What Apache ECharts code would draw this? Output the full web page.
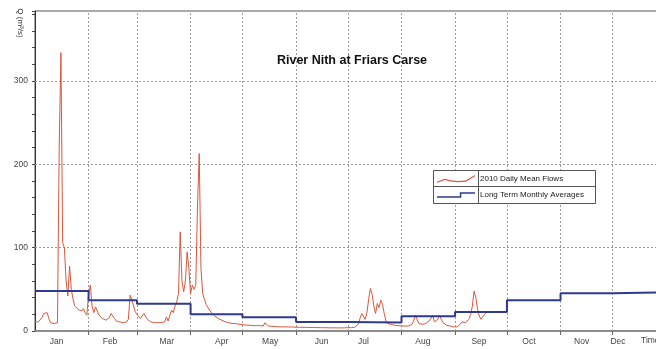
<!DOCTYPE html>
<html><head><meta charset="utf-8">
<script src="https://cdn.jsdelivr.net/npm/echarts@6/dist/echarts.min.js"></script>
<style>html,body{margin:0;padding:0;background:#fff}#c{width:656px;height:349px}</style>
</head><body><div id="c"></div>
<script>
// ---- data (day-of-year index from 1 Jan 2010) ----
var monthNames = ['Jan','Feb','Mar','Apr','May','Jun','Jul','Aug','Sep','Oct','Nov','Dec'];
var monthDays = [31,28,31,30,31,30,31,31,30,31,30,31];
var monthLabelDays = [12.5, 43.4, 76.2, 108, 136, 165.8, 190, 224.4, 256.8, 285.7, 316.2, 337.2];
var monthlyAverages = [48, 36.8, 32.8, 20, 16.4, 10.8, 10.2, 17.6, 22.8, 36.8, 45.2, 46.4];
var flowsJan = [11,11,11,12,16,21,23,22,15,10,9,9,9,10,220,334,106,100,60,42,78,50,38,30,32,26,28,24,27,22,19];
var flowsFeb = [45,55,30,22,29,24,19,17,15,14,13,13,16,21,20,15,12,11,11,10,10,10,11,14,43,38,30,23];
var flowsMar = [20,18,15,16,21,19,14,12,11,10,10,10,10,10,10,10,11,17,12,11,25,22,30,35,45,119,60,47,60,95,75];
var flowsApr = [45,55,50,55,150,213,75,45,38,32,28,25,22,20,18,17,15,14,13,12,11,11,10,10,9,9,9,8,8,8];
var flowsMay = [8,7.5,7,7,7,7,6.5,6.5,6.5,6.5,6.5,6,6,10,8,6,6,5.5,5.5,5.5,5.5,5,5,5,5,5,5,4.8,4.8,4.8,4.6];
var flowsJun = [4.5,4.5,4.5,4.4,4.4,4.4,4.3,4.3,4.2,4.2,4.2,4.1,4.1,4,4,4,4,3.9,3.9,3.9,3.8,3.8,3.8,3.8,3.7,3.7,3.7,3.7,3.8,4];
var flowsJul = [4,4,4,4,4.5,5,8,15,21,23,14,22,38,51,44,30,21,33,28,37,32,21,12,9,8,8,7,7,7,6.5,6.5];
var flowsAug = [6,6,6,6,6,7,8,12,19,14,9,8,8,8,9,9,12,15,19,11,10,14,19,14,10,8,7,6,6,5.5,5];
var flowsSep = [5,5,6,8,11,9,10,12,14,20,30,48,40,26,18,14,17,20,22];
var yTickLabels = [0,100,200,300];
var titleText = 'River Nith at Friars Carse';
var yName = 'Q (m³/s)';
var xName = 'Time';
var seriesNames = ['2010 Daily Mean Flows','Long Term Monthly Averages'];

// ---- build ----
var flows = [].concat(flowsJan,flowsFeb,flowsMar,flowsApr,flowsMay,flowsJun,flowsJul,flowsAug,flowsSep);
var monthStarts = [], acc = 0;
monthDays.forEach(function(d){ monthStarts.push(acc); acc += d; });
var yearEnd = acc;
var dailyData = flows.map(function(v,i){ return [i, v]; });
var stepData = monthStarts.map(function(s,i){ return [s, monthlyAverages[i]]; });
stepData.push([yearEnd, monthlyAverages[11]]);

var RED = '#d9583c', BLUE = '#2f3a8f';
var squiggleIcon = 'path://M0,8.2 L8,5 L14,6.6 L22,7.4 L30,6.8 L40,1 L40,2.4 L30.4,8 L22,8.6 L14,7.8 L8,6.2 L0,9.4 Z';
var stepIcon = 'path://M0,7 L24,7 L24,3 L40,3 L40,4.6 L25.6,4.6 L25.6,8.6 L0,8.6 Z';
var FONT = '"Liberation Sans", Arial, sans-serif';
var chart = echarts.init(document.getElementById('c'));
chart.setOption({
  animation:false,
  backgroundColor:'#fff',
  textStyle:{fontFamily:FONT},
  grid:{left:35, top:11, width:631, height:320, outerBoundsMode:'none', containLabel:false,
        show:true, borderColor:'#555', borderWidth:1, backgroundColor:'#fff'},
  xAxis:{
    type:'value', min:0, max:yearEnd,
    axisLine:{lineStyle:{color:'#8c8c8c', width:2}},
    axisTick:{show:true, customValues:monthStarts.slice(1), length:4, lineStyle:{color:'#666'}},
    axisLabel:{customValues:monthLabelDays, margin:6, fontSize:8.5, color:'#444', fontFamily:FONT,
      formatter:function(v){ var i = monthLabelDays.indexOf(v); return i>=0 ? monthNames[i] : ''; }},
    splitLine:{show:false}
  },
  yAxis:{
    type:'value', min:0, max:384, interval:20,
    axisLine:{show:true, lineStyle:{color:'#333', width:1}},
    axisTick:{show:true, length:3, lineStyle:{color:'#444'}},
    axisLabel:{fontSize:8.5, color:'#444', margin:7, fontFamily:FONT,
      formatter:function(v){ return yTickLabels.indexOf(v)>=0 ? String(v) : ''; }},
    splitLine:{show:false}
  },
  legend:{
    orient:'vertical', left:437, top:175, padding:0, itemWidth:38, itemHeight:10, itemGap:8, z:20,
    textStyle:{fontSize:8, color:'#222', fontFamily:FONT},
    data:[{name:seriesNames[0], icon:squiggleIcon}, {name:seriesNames[1], icon:stepIcon}]
  },
  graphic:[
    {type:'rect', z:15, shape:{x:433.5,y:170.5,width:162,height:33}, style:{fill:'#fff', stroke:'#555', lineWidth:1}},
    {type:'line', z:16, shape:{x1:433.5,y1:186.5,x2:595.5,y2:186.5}, style:{stroke:'#555', lineWidth:1}},
    {type:'line', z:16, shape:{x1:478.5,y1:170.5,x2:478.5,y2:203.5}, style:{stroke:'#555', lineWidth:1}},
    {type:'text', z:20, x:352, y:61, style:{text:titleText, fontSize:12.5, fontWeight:'bold', fill:'#111', align:'center', verticalAlign:'middle', fontFamily:FONT}},
    {type:'text', z:20, x:20, y:23, rotation:-Math.PI/2, style:{text:yName, fontSize:8, fill:'#333', align:'center', verticalAlign:'middle', fontFamily:FONT}},
    {type:'text', z:20, x:641, y:341, style:{text:xName, fontSize:8.5, fill:'#444', align:'left', verticalAlign:'middle', fontFamily:FONT}}
  ],
  series:[
    {name:seriesNames[0], type:'line', data:dailyData, symbol:'none', z:4,
     lineStyle:{color:RED, width:1}, itemStyle:{color:RED},
     markLine:{silent:true, symbol:'none', label:{show:false}, z:1,
       lineStyle:{color:'#9a9a9a', type:[2,2], width:1},
       data:[100,200,300].map(function(v){ return {yAxis:v}; })}
    },
    {name:seriesNames[1], type:'line', step:'end', data:stepData, symbol:'none', z:5,
     lineStyle:{color:BLUE, width:2}, itemStyle:{color:BLUE},
     markLine:{silent:true, symbol:'none', label:{show:false}, z:1,
       lineStyle:{color:'#9a9a9a', type:[2,2], width:1},
       data:monthStarts.slice(1).map(function(v){ return {xAxis:v}; })}
    }
  ]
});
</script></body></html>
